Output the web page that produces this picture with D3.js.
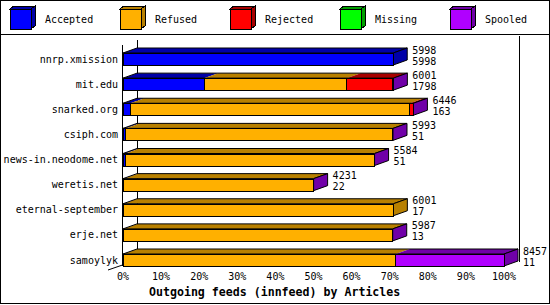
<!DOCTYPE html>
<html>
<head>
<meta charset="utf-8">
<script src="https://cdn.jsdelivr.net/npm/d3@7"></script>
<style>
  body { margin: 0; background: #fff; }
  svg { display: block; font-family: 'DejaVu Sans Mono', monospace; }
  text { fill: #000; }
</style>
</head>
<body>
<script>
// Data
const hosts = ['nnrp.xmission', 'mit.edu', 'snarked.org', 'csiph.com', 'news-in.neodome.net',
  'weretis.net', 'eternal-september', 'erje.net', 'samoylyk']
const totals = [5998, 6001, 6446, 5993, 5584, 4231, 6001, 5987, 8457]
const accepted = [5998, 1798, 163, 51, 51, 22, 17, 13, 11]
const refused = [0, 3166, 6207, 5937, 5528, 4204, 5984, 5969, 6043]
const rejected = [0, 1029, 70, 0, 0, 0, 0, 0, 0]
const missing = [0, 0, 0, 0, 0, 0, 0, 0, 0]
const spooled = [0, 8, 6, 5, 5, 5, 0, 5, 2403]
const maxArticles = 8457
const ticks = [0, 10, 20, 30, 40, 50, 60, 70, 80, 90, 100]

const series = [
  { name: 'Accepted', values: accepted, color: '#0000ff', dark: '#0000a8' },
  { name: 'Refused', values: refused, color: '#ffb000', dark: '#b88000' },
  { name: 'Rejected', values: rejected, color: '#ff0000', dark: '#a80000' },
  { name: 'Missing', values: missing, color: '#00ff00', dark: '#00a000' },
  { name: 'Spooled', values: spooled, color: '#b000ff', dark: '#7000a8' }
]

const width = 550
const height = 305
const dx = 14
const dy = 5
const barHeight = 12

const svg = d3.select('body').append('svg')
  .attr('width', width)
  .attr('height', height)
  .attr('shape-rendering', 'crispEdges')

// Frame and legend separator
svg.append('rect')
  .attr('x', 0.5).attr('y', 0.5)
  .attr('width', width - 1).attr('height', height - 2)
  .attr('fill', '#fff').attr('stroke', '#000')
svg.append('line')
  .attr('x1', 0).attr('x2', width)
  .attr('y1', 34.5).attr('y2', 34.5)
  .attr('stroke', '#000')

// Legend
const legend = svg.append('g')
  .selectAll('g')
  .data(series)
  .enter()
  .append('g')
  .attr('transform', (d, i) => `translate(${10 + i * 110}, 9)`)
legend.append('polygon')
  .attr('points', '21,0 25,-3 25,17 21,20')
  .attr('fill', d => d.dark).attr('stroke', '#000')
legend.append('polygon')
  .attr('points', '0,0 4,-3 25,-3 21,0')
  .attr('fill', d => d.dark).attr('stroke', '#000')
legend.append('rect')
  .attr('width', 21).attr('height', 20)
  .attr('fill', d => d.color).attr('stroke', '#000')
legend.append('text')
  .attr('x', 35).attr('y', 10)
  .attr('dy', '0.35em')
  .style('font-size', '10px')
  .text(d => d.name)

// Scales
const xScale = d3.scaleLinear()
  .domain([0, 100])
  .range([123, 504])
const yScale = d3.scalePoint()
  .domain(hosts)
  .range([59, 260])
const pct = v => v / maxArticles * 100

// Walls
const walls = svg.append('g').attr('stroke', '#000')
walls.append('line')
  .attr('x1', xScale(0) - 0.5).attr('x2', xScale(0) - 0.5)
  .attr('y1', 45).attr('y2', 266)
walls.append('line')
  .attr('x1', xScale(0) + dx + 0.5).attr('x2', xScale(0) + dx + 0.5)
  .attr('y1', 40).attr('y2', 261)
walls.append('line')
  .attr('x1', xScale(100) + dx + 1.5).attr('x2', xScale(100) + dx + 1.5)
  .attr('y1', 36).attr('y2', 262)
walls.append('line')
  .attr('x1', xScale(0) - 0.5).attr('x2', xScale(0) - 15)
  .attr('y1', 265).attr('y2', 270)
  .attr('shape-rendering', 'auto')

// Bars
const rows = svg.append('g')
  .selectAll('g')
  .data(hosts)
  .enter()
  .append('g')

rows.each(function (host, r) {
  const g = d3.select(this)
  const y = yScale(host) - barHeight / 2
  let start = 0
  const segs = []
  series.forEach(s => {
    const v = s.values[r]
    if (v > 0) {
      segs.push({ s, x0: xScale(pct(start)), x1: xScale(pct(start + v)) })
      start += v
    }
  })
  // top faces
  segs.forEach(d => {
    g.append('polygon')
      .attr('points', `${d.x0},${y} ${d.x0 + dx},${y - dy} ${d.x1 + dx},${y - dy} ${d.x1},${y}`)
      .attr('fill', d.s.dark)
      .attr('shape-rendering', 'auto')
  })
  const first = segs[0]
  const last = segs[segs.length - 1]
  g.append('polygon')
    .attr('points', `${first.x0},${y} ${first.x0 + dx},${y - dy} ${last.x1 + dx},${y - dy} ${last.x1},${y}`)
    .attr('fill', 'none').attr('stroke', '#000')
    .attr('shape-rendering', 'auto')
  // side face
  g.append('polygon')
    .attr('points', `${last.x1},${y} ${last.x1 + dx},${y - dy} ${last.x1 + dx},${y + barHeight - dy} ${last.x1},${y + barHeight}`)
    .attr('fill', last.s.dark).attr('stroke', '#000')
    .attr('shape-rendering', 'auto')
  // front faces
  segs.forEach(d => {
    g.append('rect')
      .attr('x', Math.floor(d.x0) + 0.5)
      .attr('y', y + 0.5)
      .attr('width', Math.max(Math.floor(d.x1) - Math.floor(d.x0), 0))
      .attr('height', barHeight)
      .attr('fill', d.s.color)
      .attr('stroke', '#000')
  })

  // value labels
  const lx = last.x1 + dx + 5
  g.append('text')
    .attr('x', lx).attr('y', yScale(host) - 9)
    .attr('dy', '0.35em')
    .style('font-size', '10px')
    .text(totals[r])
  g.append('text')
    .attr('x', lx).attr('y', yScale(host) + 2)
    .attr('dy', '0.35em')
    .style('font-size', '10px')
    .text(accepted[r])
})

// Host labels
svg.append('g')
  .selectAll('text')
  .data(hosts)
  .enter()
  .append('text')
  .attr('x', 118)
  .attr('y', d => yScale(d))
  .attr('dy', '0.35em')
  .attr('text-anchor', 'end')
  .style('font-size', '10px')
  .text(d => d)

// X axis labels
svg.append('g')
  .selectAll('text')
  .data(ticks)
  .enter()
  .append('text')
  .attr('x', d => xScale(d))
  .attr('y', 276)
  .attr('dy', '0.35em')
  .attr('text-anchor', 'middle')
  .style('font-size', '10px')
  .text(d => `${d}%`)

// Title
svg.append('text')
  .attr('x', 149)
  .attr('y', 292)
  .attr('dy', '0.35em')
  .style('font-size', '11.6px')
  .style('font-weight', 'bold')
  .text('Outgoing feeds (innfeed) by Articles')
</script>
</body>
</html>
